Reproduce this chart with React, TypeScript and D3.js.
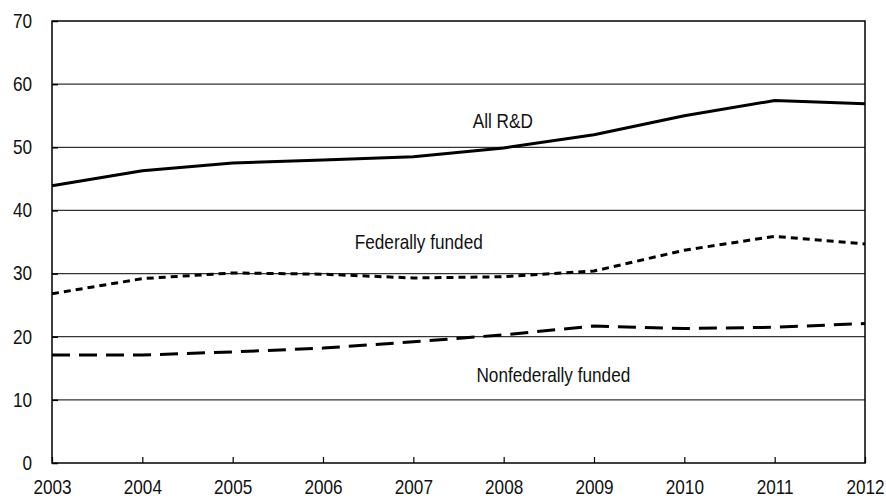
import { useEffect, useRef } from "react";
import * as d3 from "d3";

const years = [2003, 2004, 2005, 2006, 2007, 2008, 2009, 2010, 2011, 2012];
const allRD = [43.9, 46.3, 47.5, 48.0, 48.5, 49.9, 52.0, 55.0, 57.4, 56.9];
const federal = [26.8, 29.2, 30.1, 29.9, 29.3, 29.5, 30.4, 33.7, 35.9, 34.7];
const nonfederal = [17.1, 17.1, 17.6, 18.2, 19.2, 20.3, 21.7, 21.3, 21.5, 22.1];
const yTicks = [0, 10, 20, 30, 40, 50, 60, 70];

const seriesList = [
  { name: "All R&D", values: allRD, dash: "none", labelYear: 2007.99, labelValue: 53.9 },
  { name: "Federally funded", values: federal, dash: "7,5", labelYear: 2007.06, labelValue: 34.8 },
  { name: "Nonfederally funded", values: nonfederal, dash: "18,9", labelYear: 2008.55, labelValue: 13.6 },
];

const SX = 0.86;

export default function App() {
  const ref = useRef<SVGSVGElement | null>(null);

  useEffect(() => {
    const svg = d3.select(ref.current);
    svg.selectAll("*").remove();
    const W = 886;
    const H = 498;
    const margin = { top: 21, right: 21, bottom: 35, left: 52 };
    const innerW = W - margin.left - margin.right;
    const innerH = H - margin.top - margin.bottom;
    const font = "Arial, 'Liberation Sans', sans-serif";

    const g = svg
      .append("g")
      .attr("transform", `translate(${margin.left},${margin.top})`);

    const x = d3.scaleLinear().domain([2003, 2012]).range([0, innerW]);
    const y = d3.scaleLinear().domain([0, 70]).range([innerH, 0]);

    // gridlines
    g.selectAll(".grid")
      .data(yTicks.filter((t) => t > 0 && t < 70))
      .enter()
      .append("line")
      .attr("x1", 0)
      .attr("x2", innerW)
      .attr("y1", (d) => y(d))
      .attr("y2", (d) => y(d))
      .attr("stroke", "#333")
      .attr("stroke-width", 1.2);

    // frame
    g.append("rect")
      .attr("x", 0)
      .attr("y", 0)
      .attr("width", innerW)
      .attr("height", innerH)
      .attr("fill", "none")
      .attr("stroke", "#000")
      .attr("stroke-width", 1.5);

    // y axis
    const yAxis = g.append("g").call(d3.axisLeft(y).tickValues(yTicks).tickSize(-6));
    yAxis.select(".domain").remove();
    yAxis.selectAll("line").attr("stroke", "#000").attr("stroke-width", 1.5);
    yAxis
      .selectAll("text")
      .attr("x", -20 / SX)
      .attr("transform", `scale(${SX},1)`)
      .attr("font-family", font)
      .attr("font-size", 20)
      .attr("fill", "#111");

    // x axis
    const xAxis = g
      .append("g")
      .attr("transform", `translate(0,${innerH})`)
      .call(d3.axisBottom(x).tickValues(years).tickFormat(d3.format("d")).tickSize(-6).tickPadding(17));
    xAxis.select(".domain").remove();
    xAxis.selectAll("line").attr("stroke", "#000").attr("stroke-width", 1.2);
    xAxis
      .selectAll("text")
      .attr("transform", `scale(${SX},1)`)
      .attr("font-family", font)
      .attr("font-size", 20)
      .attr("fill", "#111");

    const line = d3
      .line<number>()
      .x((_, i) => x(years[i]))
      .y((d) => y(d));

    for (const s of seriesList) {
      g.append("path")
        .datum(s.values)
        .attr("d", line)
        .attr("fill", "none")
        .attr("stroke", "#000")
        .attr("stroke-width", 3)
        .attr("stroke-linejoin", "round")
        .attr("stroke-dasharray", s.dash);

      g.append("text")
        .attr("transform", `translate(${x(s.labelYear)},${y(s.labelValue)}) scale(${SX},1)`)
        .attr("text-anchor", "middle")
        .attr("dominant-baseline", "middle")
        .attr("font-family", font)
        .attr("font-size", 20)
        .attr("fill", "#111")
        .text(s.name);
    }
  }, []);

  return (
    <svg
      ref={ref}
      width={886}
      height={498}
      style={{ position: "fixed", left: 0, top: 0, background: "#fff" }}
    />
  );
}
